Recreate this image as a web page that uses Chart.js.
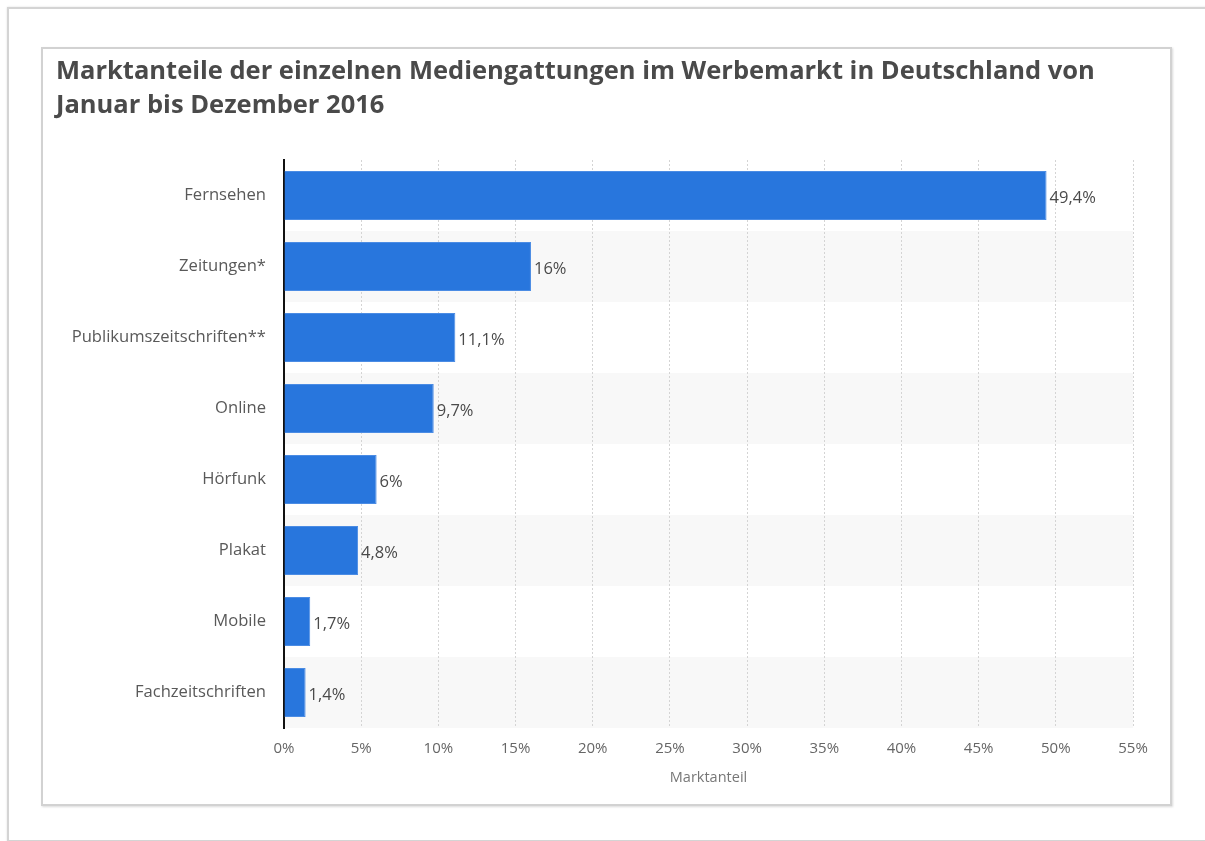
<!DOCTYPE html>
<html lang="de">
<head>
<meta charset="utf-8">
<title>Marktanteile Werbemarkt 2016</title>
<script src="https://cdn.jsdelivr.net/npm/chart.js@4/dist/chart.umd.min.js"></script>
<style>
  html, body { margin: 0; padding: 0; background: #fff; }
  body { width: 1205px; height: 841px; position: relative; overflow: hidden; font-family: "Open Sans", sans-serif; }
  .page {
    position: absolute; left: 7px; top: 7px; width: 1300px; height: 831px;
    border: 2px solid #d4d4d4; box-shadow: 0 0 2px rgba(0,0,0,0.12);
  }
  .box {
    position: absolute; left: 41px; top: 47px; width: 1127px; height: 755px;
    border: 2px solid #d2d2d2; box-shadow: 1px 1px 2px rgba(0,0,0,0.15); background: #fff;
  }
  #chart { position: absolute; left: 42px; top: 48px; }
</style>
</head>
<body>
<div class="page"></div>
<div class="box"></div>
<canvas id="chart" width="1130" height="758"></canvas>
<script>
const titleLines = [
  'Marktanteile der einzelnen Mediengattungen im Werbemarkt in Deutschland von',
  'Januar bis Dezember 2016'
];
const categories = ['Fernsehen', 'Zeitungen*', 'Publikumszeitschriften**', 'Online', 'Hörfunk', 'Plakat', 'Mobile', 'Fachzeitschriften'];
const shares = [49.4, 16, 11.1, 9.7, 6, 4.8, 1.7, 1.4];
const axisTitle = 'Marktanteil';

const fmt = v => String(v).replace('.', ',') + '%';

// grey stripes behind every second row
const stripes = {
  id: 'stripes',
  beforeDraw(chart) {
    const { ctx, chartArea, scales: { y } } = chart;
    const half = (y.getPixelForValue(1) - y.getPixelForValue(0)) / 2;
    ctx.save();
    ctx.fillStyle = '#f8f8f8';
    categories.forEach((c, i) => {
      if (i % 2 === 1) {
        const mid = y.getPixelForValue(i);
        ctx.fillRect(chartArea.left, mid - half, chartArea.right - chartArea.left, half * 2);
      }
    });
    ctx.restore();
  }
};

// value text to the right of each bar
const valueLabels = {
  id: 'valueLabels',
  afterDatasetsDraw(chart) {
    const { ctx } = chart;
    const meta = chart.getDatasetMeta(0);
    ctx.save();
    ctx.font = '16.5px "Open Sans"';
    ctx.fillStyle = '#4a4a4a';
    ctx.textAlign = 'left';
    ctx.textBaseline = 'middle';
    meta.data.forEach((bar, i) => {
      ctx.fillText(fmt(shares[i]), bar.x + 3, bar.y + 3);
    });
    ctx.restore();
  }
};

new Chart(document.getElementById('chart'), {
  type: 'bar',
  data: {
    labels: categories,
    datasets: [{
      data: shares,
      backgroundColor: '#2876dd',
      borderColor: '#4b8ce4',
      borderWidth: 1,
      barPercentage: 0.69,
      categoryPercentage: 1
    }]
  },
  options: {
    indexAxis: 'y',
    responsive: false,
    animation: false,
    layout: { padding: { left: 14, right: 39, top: 0, bottom: 0 } },
    plugins: {
      legend: { display: false },
      tooltip: { enabled: false },
      title: {
        display: true,
        text: titleLines,
        align: 'start',
        color: '#4a4a4a',
        font: { family: 'Open Sans', size: 25.5, weight: 'bold', lineHeight: 34 / 25.5 },
        padding: { top: 7, bottom: 37 }
      }
    },
    scales: {
      x: {
        min: 0,
        max: 55,
        ticks: {
          stepSize: 5,
          padding: 12,
          color: '#666',
          font: { family: 'Open Sans', size: 15 },
          callback: v => v + '%'
        },
        grid: { color: '#d4d4d4', lineWidth: 1, drawTicks: false },
        border: { display: false, dash: [2, 2] },
        title: {
          display: true,
          text: axisTitle,
          color: '#777',
          font: { family: 'Open Sans', size: 14.5 },
          padding: { top: 0, bottom: 19 }
        },
        afterFit(scale) { scale.height = 78; }
      },
      y: {
        ticks: {
          padding: 18,
          color: '#595959',
          font: { family: 'Open Sans', size: 16.6 }
        },
        grid: { display: false, drawTicks: false },
        border: { display: true, color: '#111', width: 2 },
        afterFit(scale) { scale.width = 228; }
      }
    }
  },
  plugins: [stripes, valueLabels]
});
</script>
</body>
</html>
